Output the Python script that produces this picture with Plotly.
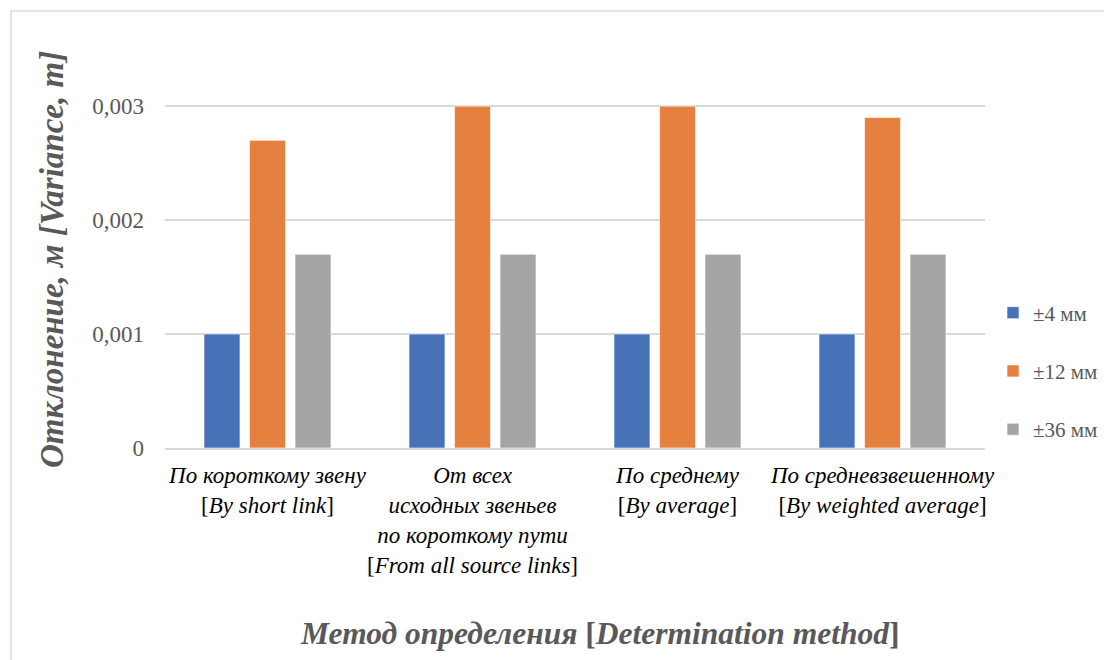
import plotly.graph_objects as go

# ---- data ----
methods_ru = ["По короткому звену",
              "От всех<br>исходных звеньев<br>по короткому пути",
              "По среднему",
              "По средневзвешенному"]
methods_en = ["By short link", "From all source links", "By average", "By weighted average"]
series_names = ["±4 мм", "±12 мм", "±36 мм"]
vals_4 = [0.001, 0.001, 0.001, 0.001]
vals_12 = [0.0027, 0.003, 0.003, 0.0029]
vals_36 = [0.0017, 0.0017, 0.0017, 0.0017]
y_ticks = [0, 0.001, 0.002, 0.003]
y_ticklabels = ["0", "0,001", "0,002", "0,003"]
colors = ["#4672B8", "#E6803F", "#A5A5A8"]

cats = [f"c{i}" for i in range(len(methods_ru))]
ticktext = [f"<i>{ru}</i><br>[<i>{en}</i>]" for ru, en in zip(methods_ru, methods_en)]

FONT = "Liberation Serif"

fig = go.Figure()
for name, vals, col in zip(series_names, [vals_4, vals_12, vals_36], colors):
    fig.add_trace(go.Bar(x=cats, y=vals, name=name, legendgroup=name,
                         marker=dict(color=col, line=dict(color="rgba(255,255,255,0.6)", width=1))))

W, H = 1104, 660
L, R, T, B = 165, 119, 105, 212
PW, PH = W - L - R, H - T - B

fig.update_layout(
    width=W, height=H,
    margin=dict(l=L, r=R, t=T, b=B, autoexpand=False),
    paper_bgcolor="white", plot_bgcolor="white",
    barmode="group", bargap=0.334, bargroupgap=0.21,
    font=dict(family=FONT, color="#595959"),
    showlegend=True,
    legend=dict(x=(993 - L) / PW, xanchor="left",
                y=(448 - 371) / (448 - T), yanchor="middle",
                font=dict(size=21, color="#595959", family=FONT),
                tracegroupgap=28, itemwidth=30, bgcolor="rgba(0,0,0,0)"),
    xaxis=dict(tickmode="array", tickvals=cats, ticktext=ticktext, tickangle=0,
               tickfont=dict(size=23, color="#000000", family=FONT),
               showgrid=False, showline=True, linecolor="#D9D9D9", linewidth=1.5,
               ticks="", zeroline=False, ticklabelstandoff=6),
    yaxis=dict(range=[0, 0.00301], tickmode="array", tickvals=y_ticks, ticktext=y_ticklabels,
               tickfont=dict(size=23, color="#595959", family=FONT),
               showgrid=True, gridcolor="#D9D9D9", gridwidth=1.5,
               zeroline=False, showline=False, ticks="", ticklabelstandoff=20),
    shapes=[dict(type="rect", xref="paper", yref="paper",
                 x0=-(L - 11) / PW, x1=(W + 10 - L) / PW,
                 y0=-(B + 10) / PH, y1=(H - B - 11) / PH,
                 line=dict(color="#D9D9D9", width=1.5), fillcolor="rgba(0,0,0,0)", layer="below")],
    annotations=[
        dict(text="<b><i>Отклонение, м [Variance, m]</i></b>", textangle=-90,
             xref="paper", yref="paper",
             x=-(L - 52) / PW, y=(448 - 260) / (448 - T),
             xanchor="center", yanchor="middle", showarrow=False,
             font=dict(size=33, color="#595959", family=FONT)),
        dict(text="<b><i>Метод определения </i>[<i>Determination method</i>]</b>",
             xref="paper", yref="paper",
             x=(600 - L) / PW, y=-(633 - 448) / (448 - T),
             xanchor="center", yanchor="middle", showarrow=False,
             font=dict(size=31.5, color="#595959", family=FONT)),
    ],
)

fig.write_html("out.html")
